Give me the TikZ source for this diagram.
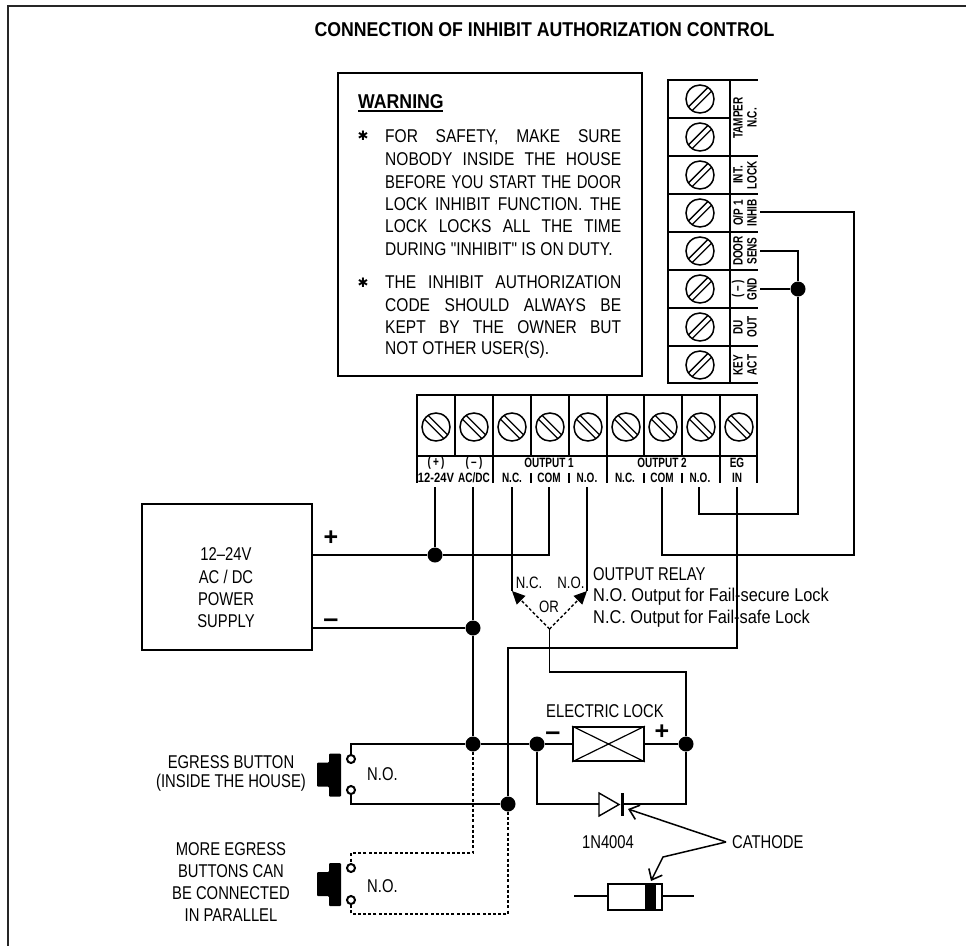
\documentclass[tikz,border=0pt]{standalone}
\usepackage{fontspec}
\usetikzlibrary{arrows.meta,calc}
\newfontfamily\nar[FakeStretch=0.8]{Liberation Sans}
\newfontfamily\narw[FakeStretch=0.84]{Liberation Sans}
\newfontfamily\narx[FakeStretch=0.885]{Liberation Sans}
\newfontfamily\narb[FakeStretch=0.74]{Liberation Sans}
\newfontfamily\plainf{Liberation Sans}
\newfontfamily\symf{DejaVu Sans}
\newcommand{\fsz}[1]{\fontsize{#1}{#1}\selectfont}
\newcommand{\jline}[1]{\makebox[236pt][s]{#1}}
\tikzset{
  x=1pt,y=-1pt,
  wire/.style={line width=1.5pt,black},
  dashwire/.style={line width=1.4pt,dash pattern=on 3pt off 2.2pt},
  frameline/.style={line width=2pt,black!85},
  boxline/.style={draw,line width=1.7pt,inner sep=0pt},
  blockline/.style={line width=2.8pt},
  jdot/.style={circle,fill=black,draw=none,minimum size=15pt,inner sep=0pt},
  ring/.style={circle,draw,fill=white,line width=2pt,minimum size=8pt,inner sep=0pt},
  lab/.style={inner sep=0pt,font=\nar\fsz{18.5}},
  labl/.style={lab,anchor=west},
  warnl/.style={inner sep=0pt,anchor=west,font=\narw\fsz{18.5}},
  relayl/.style={inner sep=0pt,anchor=west,font=\narx\fsz{18.5}},
  small/.style={inner sep=0pt,font=\nar\fsz{16.5}},
  tlab/.style={inner sep=0pt,font=\narb\bfseries\fsz{13.5}},
  head/.style={inner sep=0pt,font=\narx\bfseries\fsz{20}},
  pmark/.style={inner sep=0pt,font=\plainf\bfseries\fsz{25}},
  mmark/.style={inner sep=0pt,anchor=base,font=\plainf\bfseries\fsz{27}},
  star/.style={inner sep=0pt,font=\symf\fsz{13}},
  openarrow/.style={line width=1.5pt,-{Straight Barb[length=9pt,width=15pt,line width=1.6pt]}},
  fillarrow/.style={-{Triangle[length=13pt,width=12pt]}},
  pics/screwa/.style={code={
    \draw[line width=1.5pt] (0,0) circle (14);
    \draw[line width=1.3pt] (-13.8,-2.6)--(13.8,-2.6) (-13.8,2.6)--(13.8,2.6);}},
  pics/pushbtn/.style={code={
    \fill[rounded corners=1pt] (329,-21)--(341,-21)--(341,22)--(329,22)--(329,12)--(317,12)--(317,-12)--(329,-12)--cycle;}}
}
\begin{document}
\begin{tikzpicture}
\useasboundingbox (0,0) rectangle (966,946);
% frame
\draw[frameline] (966,6) -- (8,6) -- (8,946);
% title
\node[head] (title) at (544.5,30) {CONNECTION OF INHIBIT AUTHORIZATION CONTROL};
% warning
\node[boxline,minimum width=304pt,minimum height=303pt] (warnbox) at (490,224.5) {};
\node[head,anchor=west] (warnhead) at (358,102) {WARNING};
\draw[line width=1.8pt] (358,111) -- (443,111);
\node[star] (b1) at (363,136) {✱};
\node[star] (b2) at (363,283) {✱};
\node[warnl] (w1) at (385,137) {\jline{FOR SAFETY, MAKE SURE}};
\node[warnl] (w2) at (385,159) {\jline{NOBODY INSIDE THE HOUSE}};
\node[labl] (w3) at (385,182) {\jline{BEFORE YOU START THE DOOR}};
\node[warnl] (w4) at (385,204) {\jline{LOCK INHIBIT FUNCTION. THE}};
\node[warnl] (w5) at (385,226) {\jline{LOCK LOCKS ALL THE TIME}};
\node[warnl] (w6) at (385,249) {DURING "INHIBIT" IS ON DUTY.};
\node[warnl] (w7) at (385,282) {\jline{THE INHIBIT AUTHORIZATION}};
\node[warnl] (w8) at (385,305) {\jline{CODE SHOULD ALWAYS BE}};
\node[warnl] (w9) at (385,327) {\jline{KEPT BY THE OWNER BUT}};
\node[warnl] (w10) at (385,350) {NOT OTHER USER(S).};
% right terminal block
\draw[blockline] (668,80) rectangle (730,383);
\foreach \y in {118,156,194,232,270,308,346}{\draw[line width=1.5pt] (668,\y)--(730,\y);}
\foreach \y in {99,137,175,213,251,289,327,365}{\pic[rotate=45] at (700,\y) {screwa};}
\foreach \y in {156,194,232,270,346,383}{\draw[line width=1.2pt] (730,\y)--(758,\y);}
\draw[line width=1.2pt] (730,308)--(758,308);
\draw[line width=1.2pt] (730,80)--(758,80);
\node[tlab,rotate=90] (rt1) at (738,118) {TAMPER};
\node[tlab,rotate=90] (rt2) at (752,118) {N.C.};
\node[tlab,rotate=90] (rt3) at (738,175) {INT.};
\node[tlab,rotate=90] (rt4) at (752,175) {LOCK};
\node[tlab,rotate=90] (rt5) at (738,213) {O/P 1};
\node[tlab,rotate=90] (rt6) at (752,213) {INHIB};
\node[tlab,rotate=90] (rt7) at (738,251) {DOOR};
\node[tlab,rotate=90] (rt8) at (752,251) {SENS};
\node[tlab,rotate=90] (rt9) at (738,289) {(\,–\,)};
\node[tlab,rotate=90] (rt10) at (752,289) {GND};
\node[tlab,rotate=90] (rt11) at (738,327) {DU};
\node[tlab,rotate=90] (rt12) at (752,327) {OUT};
\node[tlab,rotate=90] (rt13) at (738,365) {KEY};
\node[tlab,rotate=90] (rt14) at (752,365) {ACT};
% bottom terminal block
\draw[blockline] (417,395) rectangle (757,456);
\foreach \x in {455,493,531,569,607,644,682,720}{\draw[line width=1.5pt] (\x,395)--(\x,456);}
\foreach \x in {436,474,512,550,588,626,663,701,739}{\pic[rotate=-45] at (\x,427) {screwa};}
\foreach \x in {417,493,607,720,757}{\draw[line width=1.3pt] (\x,456)--(\x,483);}
\foreach \x in {531,569,644,682}{\draw[line width=1.3pt] (\x,473)--(\x,483);}
\node[tlab] (bt1) at (436,463) {(\,+\,)};
\node[tlab] (bt2) at (436,478) {\scalebox{1.12}[1]{12-24V}};
\node[tlab] (bt3) at (474,463) {(\,–\,)};
\node[tlab] (bt4) at (474,478) {AC/DC};
\node[tlab] (bt5) at (549,463) {OUTPUT 1};
\node[tlab] (bt6) at (662,463) {OUTPUT 2};
\node[tlab] (bt7) at (512,478) {N.C.};
\node[tlab] (bt8) at (549,478) {COM};
\node[tlab] (bt9) at (587,478) {N.O.};
\node[tlab] (bt10) at (625,478) {N.C.};
\node[tlab] (bt11) at (662,478) {COM};
\node[tlab] (bt12) at (700,478) {N.O.};
\node[tlab] (bt13) at (737,463) {EG};
\node[tlab] (bt14) at (737,478) {IN};
% terminal wire ends
\coordinate (pV) at (435,487);
\coordinate (pAC) at (473,487);
\coordinate (pNC) at (512,487);
\coordinate (pCOM) at (549,487);
\coordinate (pNO) at (587,487);
\coordinate (qCOM) at (662,487);
\coordinate (qNO) at (699,487);
\coordinate (pEG) at (737,487);
\coordinate (rINH) at (760,212);
\coordinate (rDOOR) at (760,251);
\coordinate (rGND) at (760,289);
% PSU
\node[boxline,minimum width=170pt,minimum height=146pt] (psu) at (227,577) {};
\node[lab] (psu1) at (226,554) {12–24V};
\node[lab] (psu2) at (226,577) {AC / DC};
\node[lab] (psu3) at (226,599) {POWER};
\node[lab] (psu4) at (226,621) {SUPPLY};
\node[pmark] (plus) at (331,538) {+};
\node[mmark] (minus) at (331,627) {–};
% junctions
\node[jdot] (jP) at (435,555) {};
\node[jdot] (jM) at (473,628) {};
\node[jdot] (jE) at (473,744) {};
\node[jdot] (jL) at (537,744) {};
\node[jdot] (jR) at (686,744) {};
\node[jdot] (jB) at (508,804) {};
\node[jdot] (jG) at (798,289) {};
% power wires
\draw[wire] (pV) -- (jP);
\draw[wire] (psu.east |- jP) -- (jP) -- (pCOM |- jP) -- (pCOM);
\draw[wire] (psu.east |- jM) -- (jM);
\draw[wire] (pAC) -- (jM) -- (jE);
% output 2 wires
\draw[wire] (qNO) |- (798,514) coordinate (k1) -- (jG) -- (jG |- rDOOR) -- (rDOOR);
\draw[wire] (rGND) -- (jG);
\draw[wire] (qCOM) |- (854,555) coordinate (k2) |- (rINH);
% EG in
\draw[wire] (pEG) |- (508,648) coordinate (k3) -- (jB);
% relay
\coordinate (ncEnd) at (512,591);
\coordinate (noEnd) at (587,591);
\coordinate (apex) at (549.5,629);
\draw[wire] (pNC) -- (ncEnd);
\draw[wire] (pNO) -- (noEnd);
\draw[dashwire,fillarrow] (apex) -- (ncEnd);
\draw[dashwire,fillarrow] (apex) -- (noEnd);
\draw[wire] (apex) |- (686,672) coordinate (k4) -- (jR);
\node[small] (lnc) at (529,583) {N.C.};
\node[small] (lno) at (571,583) {N.O.};
\node[small] (lor) at (549,607) {OR};
\node[labl] (or1) at (593,574) {OUTPUT RELAY};
\node[relayl] (or2) at (593,597) {N.O. Output for Fail-secure Lock};
\node[relayl] (or3) at (593,619) {N.C. Output for Fail-safe Lock};
% lock
\node[boxline,minimum width=71pt,minimum height=34pt] (lock) at (608.5,744) {};
\draw[line width=1.2pt] (lock.north west) -- (lock.south east) (lock.south west) -- (lock.north east);
\node[lab] (lockl) at (605,711) {ELECTRIC LOCK};
\node[mmark] (lminus) at (553,740) {–};
\node[pmark] (lplus) at (662,732) {+};
% button 1
\node[ring] (c1) at (351,759) {};
\node[ring] (c2) at (351,790) {};
\pic at (0,774.5) {pushbtn};
\draw[wire] (c1) |- (jE);
\draw[wire] (jE) -- (jL) -- (lock);
\draw[wire] (lock) -- (jR);
\draw[wire] (c2) |- (jB);
% diode
\coordinate (dl) at (599,804);
\coordinate (dr) at (624,804);
\draw[wire] (jL) |- (dl);
\draw[wire] (dr) -| (jR);
\draw[line width=1.4pt] (599,793) -- (619,804.5) -- (599,816) -- cycle;
\draw[line width=3pt] (622,793) -- (622,816);
\node[lab] (dname) at (608,842) {1N4004};
\node[labl] (cath) at (732,842) {CATHODE};
\coordinate (cA) at (726,842);
\draw[openarrow] (cA) -- (628,809);
\draw[openarrow] (cA) -- (663,857) -- (651,881);
% cartridge diode
\node[boxline,minimum width=54pt,minimum height=26pt] (dbody) at (635,897) {};
\fill (645,884) rectangle (656,910);
\coordinate (ll) at (574,896);
\coordinate (lr) at (694,896);
\draw[wire] (ll) -- (dbody.west |- ll);
\draw[wire] (dbody.east |- lr) -- (lr);
% button 2
\node[ring] (c3) at (351,868) {};
\node[ring] (c4) at (351,900) {};
\pic at (0,884) {pushbtn};
\draw[dashwire] (jE) -- (473,853) coordinate (k5) -| (c3);
\draw[dashwire] (jB) -- (508,914) coordinate (k6) -| (c4);
\node[labl] (no1) at (367,774) {N.O.};
\node[labl] (no2) at (367,886) {N.O.};
\node[lab] (e1) at (231,762) {EGRESS BUTTON};
\node[lab] (e2) at (231,783) {(INSIDE THE HOUSE)};
\node[lab] (m1) at (231,849) {MORE EGRESS};
\node[lab] (m2) at (231,871) {BUTTONS CAN};
\node[lab] (m3) at (231,893) {BE CONNECTED};
\node[lab] (m4) at (231,915) {IN PARALLEL};
\end{tikzpicture}
\end{document}
